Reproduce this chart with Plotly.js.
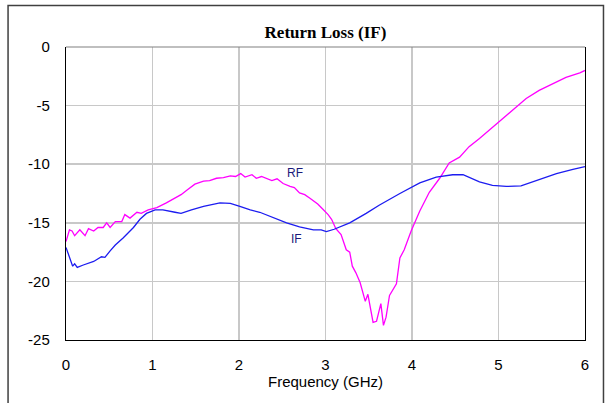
<!DOCTYPE html>
<html>
<head>
<meta charset="utf-8">
<script src="https://cdn.plot.ly/plotly-3.0.1.min.js"></script>
<style>
html,body{margin:0;padding:0;background:#fff;}
#chart{width:611px;height:403px;}
</style>
</head>
<body>
<div id="chart"></div>
<script>
const chartTitle = "Return Loss (IF)";
const xAxisTitle = "Frequency (GHz)";
const xTickVals = [0, 1, 2, 3, 4, 5, 6];
const yTickVals = [0, -5, -10, -15, -20, -25];

const ifFreq = [0, 0.077, 0.1, 0.13, 0.2, 0.32, 0.41, 0.45, 0.51, 0.57, 0.66, 0.78, 0.855, 0.93, 1.03, 1.12, 1.26, 1.33, 1.45, 1.59, 1.78, 1.9, 2.01, 2.13, 2.24, 2.4, 2.55, 2.7, 2.86, 2.95, 3.01, 3.1, 3.28, 3.47, 3.62, 3.86, 4.09, 4.28, 4.47, 4.59, 4.78, 4.93, 5.09, 5.26, 5.47, 5.67, 5.86, 6.0];
const ifLoss = [-17.1, -18.7, -18.5, -18.8, -18.6, -18.3, -17.9, -17.95, -17.4, -16.9, -16.3, -15.4, -14.7, -14.2, -13.9, -13.9, -14.1, -14.2, -13.9, -13.6, -13.3, -13.35, -13.6, -13.9, -14.1, -14.6, -15.0, -15.35, -15.6, -15.6, -15.75, -15.55, -15.0, -14.2, -13.5, -12.5, -11.6, -11.1, -10.9, -10.9, -11.5, -11.8, -11.9, -11.85, -11.3, -10.8, -10.45, -10.2];

const rfFreq = [0, 0.04, 0.07, 0.1, 0.16, 0.22, 0.26, 0.32, 0.37, 0.43, 0.47, 0.51, 0.57, 0.645, 0.68, 0.74, 0.82, 0.87, 0.95, 1.05, 1.16, 1.26, 1.33, 1.4, 1.49, 1.59, 1.66, 1.74, 1.82, 1.9, 1.96, 2.02, 2.07, 2.15, 2.2, 2.26, 2.32, 2.38, 2.44, 2.51, 2.59, 2.64, 2.7, 2.76, 2.82, 2.91, 2.97, 3.03, 3.07, 3.12, 3.18, 3.24, 3.28, 3.31, 3.35, 3.40, 3.46, 3.49, 3.55, 3.59, 3.64, 3.67, 3.70, 3.74, 3.82, 3.86, 3.91, 3.99, 4.09, 4.2, 4.32, 4.43, 4.55, 4.66, 4.78, 4.89, 5.01, 5.17, 5.32, 5.47, 5.63, 5.78, 5.94, 6.0];
const rfLoss = [-16.6, -15.6, -15.7, -16.1, -15.6, -16.1, -15.5, -15.7, -15.4, -15.4, -15.0, -15.4, -14.9, -14.9, -14.3, -14.6, -14.1, -14.2, -13.9, -13.7, -13.3, -12.9, -12.6, -12.2, -11.7, -11.45, -11.4, -11.2, -11.15, -11.0, -11.05, -10.8, -11.1, -10.9, -11.2, -11.05, -11.2, -11.4, -11.25, -11.65, -11.9, -12.0, -12.45, -12.6, -12.9, -13.4, -13.85, -14.3, -14.7, -15.5, -16.0, -17.3, -17.5, -18.7, -19.25, -20.1, -21.7, -21.1, -23.5, -23.4, -21.9, -23.75, -23.05, -21.2, -20.2, -18.0, -17.3, -15.7, -14.0, -12.4, -11.2, -9.9, -9.4, -8.5, -7.8, -7.1, -6.3, -5.3, -4.4, -3.7, -3.1, -2.6, -2.2, -2.0];

const seriesLabels = [
  {text: "RF", x: 2.65, y: -10.76},
  {text: "IF", x: 2.67, y: -16.4}
];

const font = "Arial, 'Liberation Sans', sans-serif";

const traces = [
  {x: rfFreq, y: rfLoss, type: 'scatter', mode: 'lines', name: 'RF',
   line: {color: '#ff00ff', width: 1.3}, hoverinfo: 'skip'},
  {x: ifFreq, y: ifLoss, type: 'scatter', mode: 'lines', name: 'IF',
   line: {color: '#1c1cf0', width: 1.3}, hoverinfo: 'skip'}
];

const layout = {
  width: 611, height: 403,
  margin: {l: 66, r: 25.5, t: 46.5, b: 63, pad: 0},
  paper_bgcolor: '#ffffff', plot_bgcolor: '#ffffff',
  showlegend: false,
  title: {text: '<b>' + chartTitle + '</b>', font: {family: "'Liberation Serif', 'Times New Roman', serif", size: 17, color: '#000'},
          x: 0.5, xref: 'paper', y: 1 - 32/403, yref: 'container', yanchor: 'middle'},
  xaxis: {
    range: [0, 6], tickvals: xTickVals, ticktext: xTickVals.map(String),
    showgrid: true, gridcolor: '#c8c8c8', gridwidth: 1.5,
    showline: true, linecolor: '#000', linewidth: 1.2, mirror: false,
    zeroline: false, ticks: '', ticklabelstandoff: 11,
    tickfont: {family: font, size: 15, color: '#000'},
    title: {text: xAxisTitle, font: {family: font, size: 15, color: '#000'}, standoff: 4}
  },
  yaxis: {
    range: [-25, 0], tickvals: yTickVals, ticktext: yTickVals.map(String),
    showgrid: true, gridcolor: '#c8c8c8', gridwidth: 1.5,
    showline: true, linecolor: '#000', linewidth: 1.2, mirror: true,
    zeroline: false, ticks: '', ticklabelstandoff: 12,
    tickfont: {family: font, size: 15, color: '#000'}
  },
  shapes: [
    {type: 'line', xref: 'paper', yref: 'paper', x0: 0, x1: 1, y0: 1, y1: 1,
     line: {color: '#808080', width: 1.2}},
    {type: 'rect', xref: 'paper', yref: 'paper',
     x0: (8 - 66) / 519.5, x1: (604 - 66) / 519.5,
     y0: (340 - 420) / 293.5, y1: (340 - 5) / 293.5,
     line: {color: '#404040', width: 1.5}, fillcolor: 'rgba(0,0,0,0)', layer: 'below'}
  ],
  annotations: seriesLabels.map(l => ({
    text: l.text, x: l.x, y: l.y, xref: 'x', yref: 'y', showarrow: false,
    font: {family: font, size: 12, color: '#1a1a7a'}
  }))
};

Plotly.newPlot('chart', traces, layout, {staticPlot: true, displayModeBar: false});
</script>
</body>
</html>
